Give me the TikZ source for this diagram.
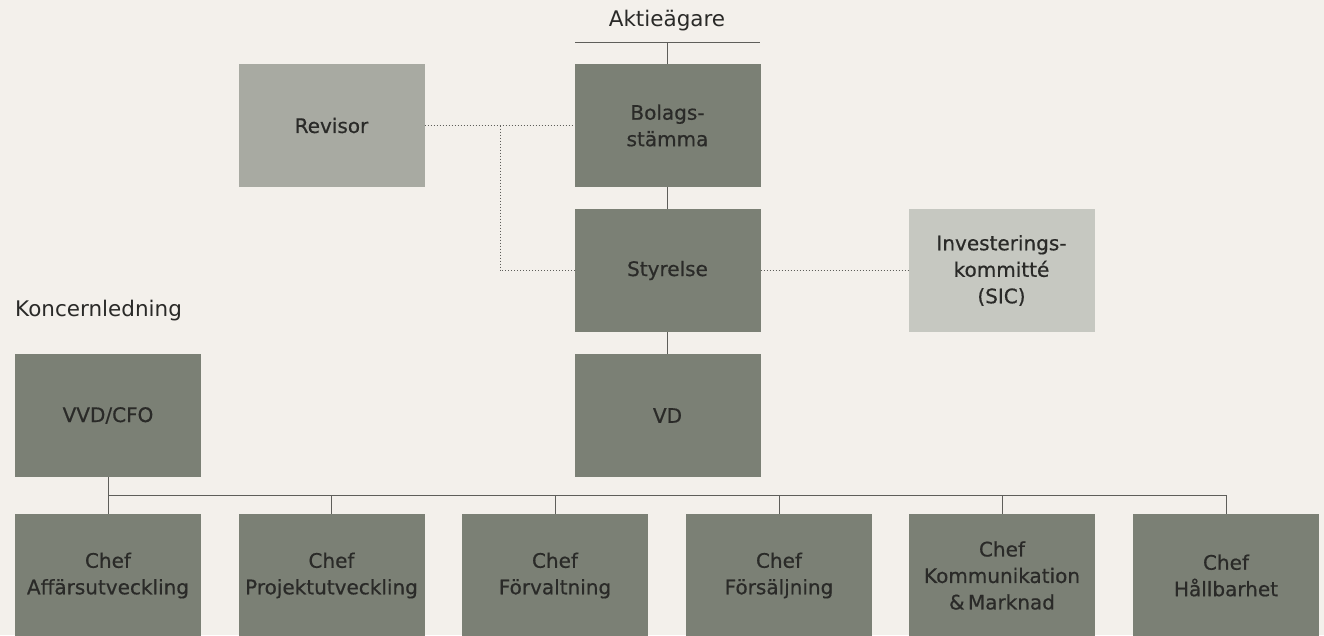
\documentclass[tikz,border=0pt]{standalone}
\usepackage{fontspec}
\setmainfont{DejaVu Sans}
\newfontfamily\medfont[FakeBold=0.6]{DejaVu Sans}
\definecolor{bg}{HTML}{F3F0EB}
\definecolor{dark}{HTML}{7B8075}
\definecolor{mid}{HTML}{A8AAA2}
\definecolor{light}{HTML}{C6C8C1}
\definecolor{txt}{HTML}{2A2A28}
\definecolor{ln}{HTML}{5E5E5A}
\tikzset{
  box/.style={fill=dark, draw=none, minimum width=186pt, minimum height=123pt, inner sep=0pt, align=center, text=txt, font=\medfont\fontsize{20}{26.5}\selectfont},
  conn/.style={draw=ln, line width=1pt},
  dotconn/.style={draw=ln, line width=1pt, dash pattern=on 1.4pt off 1.6pt},
  heading/.style={text=txt, font=\fontsize{21.5}{24}\selectfont, inner sep=0pt}
}
\begin{document}
\begin{tikzpicture}[x=1pt,y=-1pt]
\fill[bg] (0,0) rectangle (1324,635);
\useasboundingbox (0,0) rectangle (1324,635);
% headings
\node[heading, anchor=base] (akt) at (667,26) {Aktieägare};
\node[heading, anchor=base west] (konc) at (15,316) {Koncernledning};
% boxes
\node[box] (bolag) at (667.5,125.5) {Bolags-\\stämma};
\node[box, fill=mid] (revisor) at (331.5,125.5) {Revisor};
\node[box] (styr) at (667.5,270.5) {Styrelse};
\node[box, fill=light] (invest) at (1001.5,270.5) {Investerings-\\kommitté\\(SIC)};
\node[box] (vd) at (667.5,415.5) {VD};
\node[box] (vvd) at (108,415.5) {VVD/CFO};
\node[box] (c1) at (108,575.5) {Chef\\Affärsutveckling};
\node[box] (c2) at (331.5,575.5) {Chef\\Projektutveckling};
\node[box] (c3) at (555,575.5) {Chef\\Förvaltning};
\node[box] (c4) at (779,575.5) {Chef\\Försäljning};
\node[box] (c5) at (1002,575.5) {Chef\\Kommunikation\\\&\,Marknad};
\node[box] (c6) at (1226,575.5) {Chef\\Hållbarhet};
% solid connectors
\coordinate (aL) at (575,42);
\coordinate (aR) at (760,42);
\draw[conn] (aL) -- (aR);
\draw[conn] (bolag.north) -- (bolag.north |- aL);
\draw[conn] (bolag.south) -- (styr.north);
\draw[conn] (styr.south) -- (vd.north);
\coordinate (busL) at (108,495);
\coordinate (busR) at (1226,495);
\draw[conn] (vvd.south) -- (c1.north);
\draw[conn] (busL) -- (busR);
\foreach \c in {c2,c3,c4,c5,c6} \draw[conn] (\c.north) -- (\c.north |- busL);
% dotted connectors
\coordinate (dj) at (500,125.5);
\draw[dotconn] (revisor.east) -- (bolag.west);
\draw[dotconn] (dj) |- (styr.west);
\draw[dotconn] (styr.east) -- (invest.west);
\end{tikzpicture}
\end{document}
